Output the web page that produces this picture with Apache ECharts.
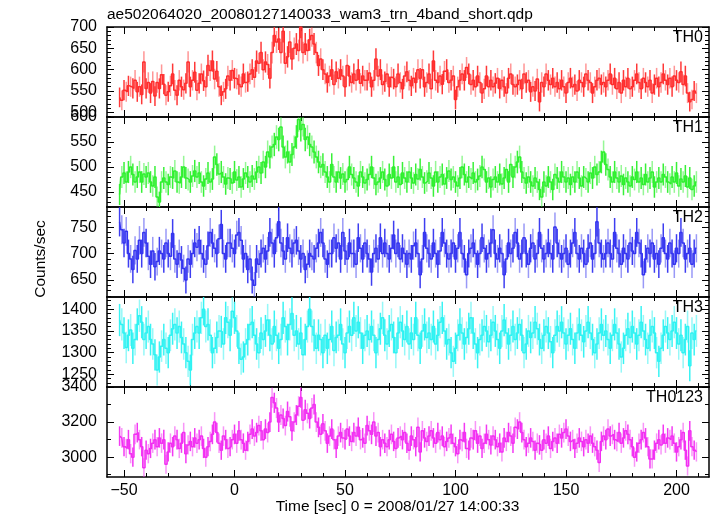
<!DOCTYPE html>
<html>
<head>
<meta charset="utf-8">
<script src="https://cdn.jsdelivr.net/npm/echarts@6/dist/echarts.min.js"></script>
<style>
html,body{margin:0;padding:0;background:#fff;}
#chart{width:717px;height:516px;}
</style>
</head>
<body>
<div id="chart"></div>
<script>
// ---- data (1-s bins starting at t = -52 s) ----
const binStart = -52;
const binWidth = 1;
const panelNames = ["TH0", "TH1", "TH2", "TH3", "TH0123"];
const titleText = "ae502064020_20080127140033_wam3_trn_4band_short.qdp";
const xTitle = "Time [sec] 0 = 2008/01/27 14:00:33";
const yTitle = "Counts/sec";
const xTickLabels = [-50, 0, 50, 100, 150, 200];

const th0 = [
535,528,552,548,562,560,556,575,548,560,
542,618,556,570,545,572,538,570,556,588,
566,540,548,562,590,552,540,575,560,553,
568,618,560,575,594,552,568,590,574,560,
610,598,620,578,596,560,540,548,555,585,
575,598,580,578,565,560,590,570,572,590,
600,582,620,615,640,600,618,612,580,640,
680,665,672,640,690,615,630,665,625,650,
660,645,700,640,660,645,670,680,660,640,
610,625,600,590,570,585,600,565,595,580,
600,585,560,610,585,570,590,575,600,568,
585,575,575,592,560,575,625,585,600,565,
572,590,560,582,578,560,590,570,555,585,
595,575,562,580,570,600,580,600,560,570,
590,555,620,575,570,585,566,596,600,570,
575,585,530,560,575,590,575,605,590,565,
575,560,585,570,545,555,585,560,575,560,
568,580,556,575,560,545,580,590,565,560,
565,575,555,590,570,575,548,560,550,578,
525,570,560,590,575,565,580,560,570,555,
575,560,545,570,580,560,565,550,575,570,
560,590,575,570,545,560,575,580,565,570,
560,575,590,565,580,555,570,545,575,560,
580,555,560,575,590,570,555,580,570,560,
575,545,565,580,560,570,590,575,565,580,
560,585,575,570,595,565,585,545,525,530,
550,545];

const th1 = [
445,480,488,470,490,500,485,470,480,490,
470,486,480,488,470,462,480,440,430,470,
478,470,465,480,478,492,470,468,480,500,
478,475,470,482,492,480,488,470,462,476,
488,470,476,520,505,486,490,480,466,478,
476,468,490,474,480,460,476,488,480,470,
482,476,490,500,488,510,500,530,520,540,
545,560,555,580,540,520,530,510,525,540,
560,595,575,585,555,560,545,540,530,520,
510,500,505,490,480,470,505,480,470,490,
478,486,470,475,500,485,478,470,462,490,
480,468,475,485,500,478,465,470,478,490,
475,462,485,478,500,470,480,465,488,478,
470,490,478,468,485,476,495,480,468,472,
488,478,462,490,470,480,485,466,478,492,
475,480,470,462,478,500,485,470,480,476,
488,470,475,482,500,495,470,478,460,475,
480,470,485,466,478,495,470,505,480,500,
510,520,490,478,468,480,470,462,478,470,
455,440,470,462,480,470,455,485,478,470,
490,480,470,478,465,480,470,490,478,462,
480,476,470,488,478,500,485,490,510,530,
505,495,480,470,490,478,470,482,465,478,
470,462,480,475,490,470,478,465,485,470,
478,490,460,470,478,470,485,480,470,466,
480,470,488,462,476,470,482,460,478,455,
462,470];

const th2 = [
760,745,720,742,700,690,670,706,690,725,
700,740,720,695,680,705,675,685,705,700,
690,720,700,695,738,690,680,700,688,672,
650,690,680,700,720,712,725,700,690,680,
715,740,720,710,700,728,755,700,690,720,
720,710,700,735,740,725,690,700,670,690,
650,640,690,680,700,710,690,705,740,720,
700,730,760,720,705,690,730,710,700,720,
725,705,690,700,670,680,700,695,690,710,
720,740,720,690,680,700,700,730,710,720,
690,740,705,690,720,700,700,680,730,710,
690,720,700,690,665,700,710,690,730,700,
720,700,690,710,735,700,720,690,710,700,
680,700,690,715,720,700,660,690,740,710,
700,690,720,700,680,705,740,720,700,690,
700,720,690,710,740,700,690,660,700,710,
720,700,680,700,730,710,690,700,720,745,
700,690,710,700,660,690,720,700,710,740,
720,690,700,730,700,680,710,720,690,700,
740,710,690,700,720,700,690,750,720,700,
690,700,710,680,700,720,740,700,690,710,
700,680,710,720,690,700,760,720,700,690,
700,720,700,690,740,710,700,680,710,700,
690,720,705,700,740,720,700,660,690,710,
700,720,690,700,680,710,730,700,690,720,
700,680,710,700,740,720,690,700,710,680,
700,710];

const th3 = [
1375,1365,1345,1312,1340,1352,1310,1330,1365,1385,
1370,1330,1345,1360,1330,1320,1295,1260,1290,1315,
1330,1310,1300,1340,1355,1365,1345,1360,1335,1320,
1300,1280,1260,1330,1345,1360,1345,1380,1400,1360,
1365,1340,1300,1310,1335,1350,1348,1320,1380,1370,
1340,1395,1380,1350,1310,1285,1290,1320,1330,1365,
1370,1340,1320,1300,1345,1330,1350,1375,1340,1320,
1360,1340,1310,1330,1380,1360,1330,1365,1390,1340,
1350,1320,1345,1295,1330,1360,1400,1360,1340,1310,
1340,1330,1300,1340,1310,1330,1360,1305,1335,1340,
1365,1320,1300,1345,1360,1340,1380,1350,1370,1345,
1310,1340,1350,1330,1360,1340,1300,1330,1355,1380,
1340,1320,1350,1365,1335,1300,1345,1370,1350,1330,
1360,1320,1345,1330,1380,1340,1310,1350,1365,1335,
1345,1330,1360,1320,1340,1370,1380,1350,1320,1330,
1300,1280,1310,1340,1365,1345,1320,1335,1355,1380,
1345,1320,1300,1330,1340,1360,1350,1325,1340,1370,
1350,1330,1310,1350,1375,1345,1320,1340,1360,1330,
1345,1365,1340,1300,1320,1350,1335,1345,1370,1355,
1330,1310,1340,1360,1345,1325,1300,1340,1360,1350,
1370,1345,1320,1340,1355,1330,1310,1345,1365,1340,
1325,1350,1370,1345,1330,1300,1320,1345,1365,1340,
1350,1330,1310,1340,1365,1345,1320,1290,1310,1340,
1355,1335,1360,1345,1320,1340,1370,1350,1330,1310,
1340,1360,1345,1300,1280,1310,1340,1360,1345,1330,
1350,1370,1345,1320,1340,1300,1330,1360,1270,1345,
1330,1350];

const th0123 = [
3120,3110,3060,3050,3100,3020,3000,3130,3140,3100,
3060,2940,3040,3020,3050,3080,3100,3060,3110,3080,
3100,2960,3030,3080,3060,3120,3100,3050,3080,3140,
3020,3070,3090,3060,3110,3080,3100,3120,3050,3000,
3060,3090,3130,3200,3140,3080,3040,3120,3100,3050,
3060,3100,3130,3080,3150,3100,3080,3040,3090,3130,
3160,3120,3140,3180,3150,3100,3160,3140,3200,3340,
3310,3280,3200,3240,3220,3180,3260,3230,3150,3200,
3240,3290,3340,3210,3270,3250,3220,3280,3300,3200,
3170,3130,3190,3150,3080,3120,3160,3100,3050,3120,
3140,3110,3100,3160,3120,3090,3140,3120,3170,3100,
3110,3080,3180,3150,3130,3200,3120,3140,3060,3100,
3080,3060,3100,3130,3090,3050,3110,3120,3100,3140,
3080,3040,3120,3100,3060,3170,3030,3150,3110,3090,
3120,3150,3110,3080,3140,3100,3120,3060,3090,3110,
3130,3080,3060,3020,3100,3090,3140,3050,3040,3110,
3100,3150,3080,3120,3050,3080,3130,3100,3070,3120,
3100,3060,3080,3030,3110,3090,3140,3120,3080,3170,
3160,3200,3140,3100,3060,3080,3110,3090,3040,3080,
3070,3040,3100,3080,3120,3050,3090,3110,3080,3130,
3110,3140,3160,3120,3090,3100,3050,3080,3110,3090,
3060,3100,3080,3120,3080,3060,3040,2970,3090,3120,
3100,3160,3120,3130,3100,3090,3140,3080,3110,3150,
3130,3100,3060,3000,3030,3080,3100,3140,3110,3060,
2990,2990,3040,3080,3100,3070,3130,3080,3110,3100,
3120,3080,3030,3060,3100,3140,3040,2950,3150,3060,
3040,3030];

// ---- styling / layout ----
const seriesData = [th0, th1, th2, th3, th0123];
const colors = ["#ff2d2d", "#2ef02e", "#3434f0", "#2ef2f2", "#f22ef2"];
const yRanges = [[489, 700], [420, 600], [618, 788], [1221, 1428], [2887, 3400]];
const yMajor = [
  [500, 550, 600, 650, 700],
  [450, 500, 550, 600],
  [650, 700, 750],
  [1250, 1300, 1350, 1400],
  [3000, 3200, 3400]
];
const yMinorStep = [10, 10, 10, 10, 100];
const xRange = [-57.7, 214.7];
const xMinor = [];
for (let v = -50; v <= 210; v += 10) xMinor.push(v);

const FONT = "'Liberation Sans', Arial, Helvetica, sans-serif";
const TICK_FS = 16;
const TITLE_FS = 15.5;
const gridLeft = 107, gridWidth = 602, gridTop0 = 27, gridH = 90;

const times = th0.map((_, i) => binStart + i * binWidth);

const grids = [], xAxes = [], yAxes = [], series = [], graphics = [];

function minorList(r, step) {
  const out = [];
  let v = Math.ceil(r[0] / step) * step;
  for (; v <= r[1]; v += step) out.push(v);
  return out;
}
const plain = v => String(v).replace('-', '\u2212');

for (let p = 0; p < 5; p++) {
  grids.push({left: gridLeft, width: gridWidth, top: gridTop0 + p * gridH, height: gridH});
  const base = {
    type: 'value', gridIndex: p, min: xRange[0], max: xRange[1],
    splitLine: {show: false}
  };
  xAxes.push(Object.assign({}, base, {
    position: 'bottom',
    axisLine: {show: true, onZero: false, lineStyle: {color: '#000', width: 1.5}},
    axisTick: {show: true, inside: true, length: 7, customValues: xTickLabels, lineStyle: {color: '#000', width: 1}},
    axisLabel: {show: p === 4, customValues: xTickLabels, color: '#000', fontSize: TICK_FS, fontFamily: FONT, margin: 6,
      formatter: plain}
  }));
  xAxes.push(Object.assign({}, base, {
    position: 'bottom',
    axisLine: {show: false, onZero: false},
    axisTick: {show: true, inside: true, length: 4, customValues: xMinor, lineStyle: {color: '#000', width: 1}},
    axisLabel: {show: false}
  }));
  xAxes.push(Object.assign({}, base, {
    position: 'top',
    axisLine: {show: true, onZero: false, lineStyle: {color: '#000', width: 1.5}},
    axisTick: {show: true, inside: true, length: 7, customValues: xTickLabels, lineStyle: {color: '#000', width: 1}},
    axisLabel: {show: false}
  }));
  xAxes.push(Object.assign({}, base, {
    position: 'top',
    axisLine: {show: false, onZero: false},
    axisTick: {show: true, inside: true, length: 4, customValues: xMinor, lineStyle: {color: '#000', width: 1}},
    axisLabel: {show: false}
  }));

  const r = yRanges[p];
  const ybase = {type: 'value', gridIndex: p, min: r[0], max: r[1], splitLine: {show: false}};
  const minors = minorList(r, yMinorStep[p]);
  yAxes.push(Object.assign({}, ybase, {
    position: 'left',
    axisLine: {show: true, onZero: false, lineStyle: {color: '#000', width: 1.5}},
    axisTick: {show: true, inside: true, length: 7, customValues: yMajor[p], lineStyle: {color: '#000', width: 1}},
    axisLabel: {show: true, customValues: yMajor[p], color: '#000', fontSize: TICK_FS, fontFamily: FONT, margin: 10,
      formatter: plain}
  }));
  yAxes.push(Object.assign({}, ybase, {
    position: 'left',
    axisLine: {show: false, onZero: false},
    axisTick: {show: true, inside: true, length: 4, customValues: minors, lineStyle: {color: '#000', width: 1}},
    axisLabel: {show: false}
  }));
  yAxes.push(Object.assign({}, ybase, {
    position: 'right',
    axisLine: {show: true, onZero: false, lineStyle: {color: '#000', width: 1.5}},
    axisTick: {show: true, inside: true, length: 7, customValues: yMajor[p], lineStyle: {color: '#000', width: 1}},
    axisLabel: {show: false}
  }));
  yAxes.push(Object.assign({}, ybase, {
    position: 'right',
    axisLine: {show: false, onZero: false},
    axisTick: {show: true, inside: true, length: 4, customValues: minors, lineStyle: {color: '#000', width: 1}},
    axisLabel: {show: false}
  }));

  const vals = seriesData[p];
  const col = colors[p];
  const errData = vals.map((v, i) => [times[i], v, v - Math.sqrt(v), v + Math.sqrt(v)]);
  series.push({
    type: 'custom',
    xAxisIndex: p * 4, yAxisIndex: p * 4,
    clip: true,
    silent: true,
    data: errData,
    encode: {x: 0, y: [1, 2, 3]},
    renderItem: function (params, api) {
      const x = api.value(0);
      const lo = api.coord([x, api.value(2)]);
      const hi = api.coord([x, api.value(3)]);
      const idx = params.dataIndex;
      return {
        type: 'line',
        shape: {x1: lo[0], y1: lo[1], x2: hi[0], y2: hi[1]},
        style: {stroke: col, lineWidth: 1.5, opacity: idx % 2 ? 0.5 : 0.95}
      };
    },
    z: 2
  });
  series.push({
    type: 'line',
    xAxisIndex: p * 4, yAxisIndex: p * 4,
    data: vals.map((v, i) => [times[i], v]),
    step: 'middle',
    showSymbol: false,
    clip: true,
    silent: true,
    lineStyle: {color: col, width: 1.5},
    z: 3
  });

  graphics.push({
    type: 'text',
    style: {x: 703, y: gridTop0 + p * gridH + 11, text: panelNames[p], font: TICK_FS + 'px ' + FONT,
      fill: '#000', textAlign: 'right', textVerticalAlign: 'middle'},
    z: 10
  });
}

graphics.push({
  type: 'text',
  style: {x: 107, y: 15, text: titleText, font: TITLE_FS + 'px ' + FONT, fill: '#000',
    textAlign: 'left', textVerticalAlign: 'middle'}
});
graphics.push({
  type: 'text',
  style: {x: 397.5, y: 507, text: xTitle, font: TITLE_FS + 'px ' + FONT, fill: '#000',
    textAlign: 'center', textVerticalAlign: 'middle'}
});
graphics.push({
  type: 'text',
  x: 41, y: 259, rotation: Math.PI / 2,
  style: {x: 0, y: 0, text: yTitle, font: TITLE_FS + 'px ' + FONT, fill: '#000',
    textAlign: 'center', textVerticalAlign: 'middle'}
});

const chart = echarts.init(document.getElementById('chart'), null, {renderer: 'canvas'});
chart.setOption({
  animation: false,
  backgroundColor: '#fff',
  grid: grids,
  xAxis: xAxes,
  yAxis: yAxes,
  series: series,
  graphic: graphics
});
</script>
</body>
</html>
